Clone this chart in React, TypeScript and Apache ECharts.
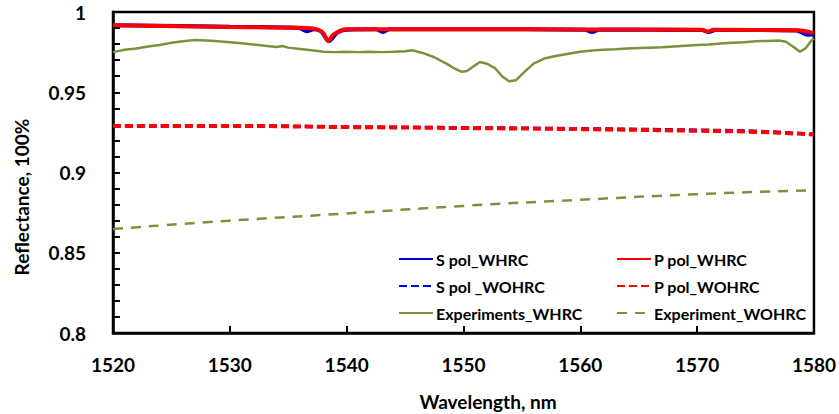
import React, { useEffect, useRef } from "react";
import * as echarts from "echarts";

// ---- Data ----
const sPolWhrcX = [1520, 1530, 1535, 1536, 1536.6, 1537.2, 1537.8, 1538.5, 1539.2, 1540, 1542.5, 1543.1, 1543.7, 1550, 1560.4, 1561, 1561.6, 1570.4, 1571, 1571.6, 1578.5, 1579.4, 1580];
const sPolWhrcY = [0.9918, 0.9908, 0.9903, 0.9898, 0.988, 0.9893, 0.988, 0.9818, 0.9872, 0.989, 0.9893, 0.9875, 0.9893, 0.9893, 0.989, 0.9875, 0.989, 0.9888, 0.9875, 0.9888, 0.9885, 0.9858, 0.9862];

const pPolWhrcX = [1520, 1530, 1536, 1537.3, 1538, 1538.4, 1538.9, 1540, 1550, 1560, 1570.4, 1570.9, 1571.4, 1578.7, 1580];
const pPolWhrcY = [0.9918, 0.9907, 0.9902, 0.9895, 0.987, 0.982, 0.9862, 0.9893, 0.9893, 0.9891, 0.9889, 0.9878, 0.9889, 0.9886, 0.9868];

const sPolWohrcX = [1520, 1530, 1540, 1550, 1560, 1570, 1575, 1580];
const sPolWohrcY = [0.929, 0.9291, 0.9285, 0.928, 0.9274, 0.9265, 0.9258, 0.9238];

const pPolWohrcX = [1520, 1530, 1540, 1550, 1560, 1570, 1575, 1580];
const pPolWohrcY = [0.929, 0.929, 0.9283, 0.9277, 0.927, 0.926, 0.9253, 0.9237];

const expWhrcX = [1520, 1521, 1522, 1523, 1524, 1525, 1526, 1527, 1528, 1529, 1530, 1531, 1532, 1533, 1534, 1534.5, 1535, 1536, 1537, 1538, 1539, 1540, 1541, 1542, 1543, 1544, 1545, 1545.6, 1546.5, 1547.5, 1548.5, 1549.3, 1549.8, 1550.3, 1551, 1551.4, 1552, 1552.7, 1553.3, 1553.9, 1554.5, 1555.2, 1556, 1557, 1558, 1559, 1560, 1561, 1562, 1563, 1564, 1565, 1566, 1567, 1568, 1569, 1570, 1571, 1572, 1573, 1574, 1575, 1576, 1577, 1577.6, 1578.2, 1578.8, 1579.3, 1579.7, 1580];
const expWhrcY = [0.975, 0.9765, 0.9772, 0.9785, 0.9795, 0.9808, 0.9818, 0.9825, 0.9822, 0.9818, 0.9812, 0.9805, 0.9798, 0.979, 0.9782, 0.9788, 0.9778, 0.977, 0.9762, 0.9752, 0.975, 0.9752, 0.975, 0.9753, 0.975, 0.9752, 0.9755, 0.9762, 0.9745, 0.9718, 0.968, 0.9645, 0.9628, 0.9632, 0.9668, 0.9688, 0.9678, 0.965, 0.96, 0.9568, 0.9575, 0.9625, 0.9678, 0.9712, 0.9728, 0.974, 0.9752, 0.976, 0.9765, 0.9768, 0.9772, 0.9775, 0.9778, 0.978, 0.9785, 0.979, 0.9795, 0.9798, 0.9803, 0.9808, 0.9812, 0.9818, 0.982, 0.9822, 0.9815, 0.9785, 0.9752, 0.9775, 0.9815, 0.9835];

const expWohrcX = [1520, 1530, 1540, 1550, 1560, 1570, 1580];
const expWohrcY = [0.8648, 0.87, 0.8745, 0.8792, 0.883, 0.8865, 0.889];

const xTicks = { min: 1520, max: 1580, interval: 10 };
const yTicks = { min: 0.8, max: 1, interval: 0.05 };

const xTitle = "Wavelength, nm";
const yTitle = "Reflectance, 100%";

const FONT = "Lato";

const zip = (xs: number[], ys: number[]) => xs.map((x, i) => [x, ys[i]]);

export default function App() {
  const ref = useRef<HTMLDivElement>(null);
  useEffect(() => {
    if (!ref.current) return;
    const chart = echarts.init(ref.current, null, { renderer: "svg" });
    const legendCommon = {
      orient: "vertical" as const,
      top: 251,
      padding: 0,
      itemWidth: 34,
      itemHeight: 14,
      itemGap: 11,
      itemStyle: { opacity: 0 },
      textStyle: { color: "#000", fontFamily: FONT, fontWeight: "bold" as const, fontSize: 16, padding: [0, 0, 0, -2] },
    };
    chart.setOption({
      animation: false,
      backgroundColor: "#fff",
      grid: { left: 113, right: 25, top: 12, bottom: 81, show: true, borderColor: "#000", borderWidth: 2.5 },
      graphic: [
        {
          type: "text", x: 488, y: 401,
          style: { text: xTitle, align: "center", verticalAlign: "middle", fill: "#000", font: `bold 19px ${FONT}` },
        },
        {
          type: "text", x: 21, y: 197, rotation: Math.PI / 2,
          style: { text: yTitle, align: "center", verticalAlign: "middle", fill: "#000", font: `bold 19px ${FONT}` },
        },
      ],
      legend: [
        { ...legendCommon, left: 398, data: ["S pol_WHRC", "S pol _WOHRC", "Experiments_WHRC"] },
        { ...legendCommon, left: 616, data: ["P pol_WHRC", "P pol_WOHRC", "Experiment_WOHRC"] },
      ],
      xAxis: {
        type: "value",
        min: xTicks.min,
        max: xTicks.max,
        interval: xTicks.interval,
        axisLine: { show: true, lineStyle: { color: "#000", width: 2.5 } },
        axisTick: { show: true, inside: true, length: 7, lineStyle: { color: "#000", width: 2 } },
        axisLabel: { color: "#000", fontFamily: FONT, fontWeight: "bold", fontSize: 19, margin: 22, formatter: (v: number) => String(v) },
        splitLine: { show: false },
      },
      yAxis: {
        type: "value",
        min: yTicks.min,
        max: yTicks.max,
        interval: yTicks.interval,
        axisLine: { show: true, lineStyle: { color: "#000", width: 2.5 } },
        axisTick: { show: true, inside: true, length: 7, lineStyle: { color: "#000", width: 2 } },
        minorTick: { show: true, splitNumber: 5, length: 7, lineStyle: { color: "#000", width: 2 } },
        axisLabel: { color: "#000", fontFamily: FONT, fontWeight: "bold", fontSize: 19, margin: 27 },
        splitLine: { show: false },
      },
      series: [
        {
          name: "Experiment_WOHRC", type: "line", symbol: "none", smooth: true, z: 2,
          data: zip(expWohrcX, expWohrcY),
          lineStyle: { color: "#77933C", width: 2.5, type: [10, 8] }, itemStyle: { color: "#77933C" },
        },
        {
          name: "Experiments_WHRC", type: "line", symbol: "none", z: 2,
          data: zip(expWhrcX, expWhrcY),
          lineStyle: { color: "#77933C", width: 2.5 }, itemStyle: { color: "#77933C" },
        },
        {
          name: "S pol _WOHRC", type: "line", symbol: "none", smooth: true, z: 3,
          data: zip(sPolWohrcX, sPolWohrcY),
          lineStyle: { color: "#0000FF", width: 3, type: [8, 4] }, itemStyle: { color: "#0000FF" },
        },
        {
          name: "P pol_WOHRC", type: "line", symbol: "none", smooth: true, z: 4,
          data: zip(pPolWohrcX, pPolWohrcY),
          lineStyle: { color: "#FF0000", width: 4, type: [8, 4] }, itemStyle: { color: "#FF0000" },
        },
        {
          name: "S pol_WHRC", type: "line", symbol: "none", smooth: 0.3, z: 5,
          data: zip(sPolWhrcX, sPolWhrcY),
          lineStyle: { color: "#0000CC", width: 4 }, itemStyle: { color: "#0000CC" },
        },
        {
          name: "P pol_WHRC", type: "line", symbol: "none", smooth: 0.3, z: 6,
          data: zip(pPolWhrcX, pPolWhrcY),
          lineStyle: { color: "#FF0000", width: 4 }, itemStyle: { color: "#FF0000" },
        },
      ],
    });
    return () => chart.dispose();
  }, []);
  return <div ref={ref} style={{ position: "absolute", left: 0, top: 0, width: 839, height: 414 }} />;
}
